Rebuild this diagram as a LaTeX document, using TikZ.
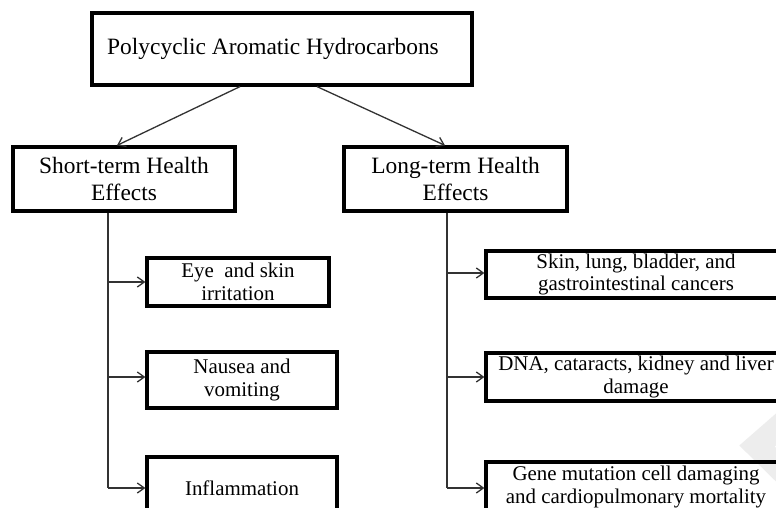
\documentclass[tikz,border=0pt]{standalone}
\usepackage{fontspec}
\setmainfont{Liberation Serif}
\usetikzlibrary{arrows.meta,calc}
\tikzset{
  parentbox/.style={draw=black, line width=3.2bp, rectangle, inner sep=0pt, align=center,
    font=\fontsize{23.5}{27}\selectfont},
  childbox/.style={draw=black, line width=3.2bp, rectangle, inner sep=0pt, align=center,
    font=\fontsize{21}{23}\selectfont},
  conn/.style={draw=black!80, line width=1.3bp},
  arr/.style={conn, -{Straight Barb[length=7bp,width=10bp,line width=1.3bp]}},
  wmark/.style={draw=black!7, line width=24bp, line join=miter}
}
\begin{document}
\begin{tikzpicture}[x=1bp,y=-1bp]
\useasboundingbox[fill=white] (0,0) rectangle (776,508);
\clip (0,0) rectangle (776,508);
% faint watermark
\draw[wmark] (812,398) -- (757,446) -- (812,500);
% nodes
\node[parentbox, minimum width=380bp, minimum height=72bp] (pah) at (282,49)
  {Polycyclic Aromatic Hydrocarbons\hspace*{18bp}};
\node[parentbox, minimum width=222bp, minimum height=64bp] (short) at (124,179)
  {Short-term Health\\Effects};
\node[parentbox, minimum width=223bp, minimum height=64bp] (long) at (455.5,179)
  {Long-term Health\\Effects};
\node[childbox, minimum width=182bp, minimum height=48bp] (eye) at (238,282)
  {Eye\ \ and skin\\irritation};
\node[childbox, minimum width=190bp, minimum height=56bp] (nausea) at (242,380)
  {Nausea and\\vomiting};
\node[childbox, minimum width=190bp, minimum height=62bp] (inflam) at (242,488)
  {Inflammation};
\node[childbox, minimum width=300bp, minimum height=47bp] (skin) at (636,274.5)
  {Skin, lung, bladder, and\\gastrointestinal cancers};
\node[childbox, minimum width=300bp, minimum height=48bp] (dna) at (636,377)
  {DNA, cataracts, kidney and liver\\damage};
\node[childbox, minimum width=300bp, minimum height=50bp] (gene) at (636,487)
  {Gene mutation cell damaging\\and cardiopulmonary mortality};
% top connectors
\draw[arr] ($(pah.south)+(-42,0)$) -- ($(short.north)+(-7,0)$);
\draw[arr] ($(pah.south)+(35,0)$) -- ($(long.north)+(-10.5,0)$);
% left trunk
\coordinate (st) at ($(short.south)+(-16,0)$);
\coordinate (nauseain) at ($(nausea.west)+(0,-3)$);
\draw[conn] (st) -- (st |- inflam.west);
\draw[arr] (st |- eye.west) -- (eye.west);
\draw[arr] (st |- nauseain) -- (nauseain);
\draw[arr] (st |- inflam.west) -- (inflam.west);
% right trunk
\coordinate (lt) at ($(long.south)+(-8.5,0)$);
\coordinate (skinin) at ($(skin.west)+(0,-1.5)$);
\coordinate (genein) at ($(gene.west)+(0,1)$);
\draw[conn] (lt) -- (lt |- genein);
\draw[arr] (lt |- skinin) -- (skinin);
\draw[arr] (lt |- dna.west) -- (dna.west);
\draw[arr] (lt |- genein) -- (genein);
\end{tikzpicture}
\end{document}
